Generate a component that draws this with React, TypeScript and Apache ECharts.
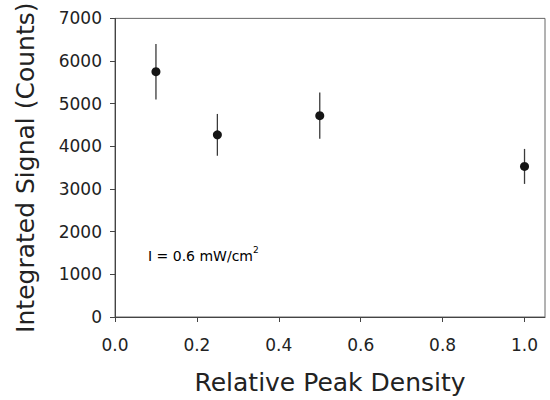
import React, { useEffect, useRef } from "react";
import * as echarts from "echarts";

const relativeDensity = [0.1, 0.25, 0.5, 1.0];
const integratedSignal = [5750, 4270, 4720, 3530];
const signalError = [650, 490, 540, 410];
const xTickValues = [0, 0.2, 0.4, 0.6, 0.8, 1.0];
const xAxisTitle = "Relative Peak Density";
const yAxisTitle = "Integrated Signal (Counts)";
const annotationMain = "I = 0.6 mW/cm";
const annotationSup = "2";

const FONT = "DejaVu Sans";
const TEXT = "#222";
const AXIS = "#444";

export default function App() {
  const ref = useRef<HTMLDivElement>(null);

  useEffect(() => {
    if (!ref.current) return;
    const chart = echarts.init(ref.current, undefined, { renderer: "svg" });
    const points = relativeDensity.map((x, i) => [x, integratedSignal[i]]);
    const bars = relativeDensity.map((x, i) => [
      x,
      integratedSignal[i] - signalError[i],
      integratedSignal[i] + signalError[i],
    ]);
    chart.setOption({
      animation: false,
      grid: {
        left: 115,
        right: 5,
        top: 18,
        bottom: 82,
        show: true,
        borderColor: "#666",
        borderWidth: 1,
        backgroundColor: "transparent",
      },
      xAxis: {
        type: "value",
        min: 0,
        max: 1.05,
        interval: 0.2,
        name: xAxisTitle,
        nameLocation: "middle",
        nameGap: 53,
        nameTextStyle: { fontFamily: FONT, fontSize: 25, color: TEXT },
        axisLine: { show: true, lineStyle: { color: AXIS, width: 1 } },
        axisTick: {
          show: true,
          inside: false,
          length: 5,
          customValues: xTickValues,
          lineStyle: { color: AXIS },
        },
        axisLabel: {
          fontFamily: FONT,
          fontSize: 17,
          color: TEXT,
          margin: 19,
          customValues: xTickValues,
          formatter: (v: number) => v.toFixed(1),
        },
        splitLine: { show: false },
      },
      yAxis: {
        type: "value",
        min: 0,
        max: 7000,
        interval: 1000,
        name: yAxisTitle,
        nameLocation: "middle",
        nameGap: 77,
        nameTextStyle: { fontFamily: FONT, fontSize: 25, color: TEXT },
        axisLine: { show: true, lineStyle: { color: AXIS, width: 1 } },
        axisTick: { show: true, inside: false, length: 5, lineStyle: { color: AXIS } },
        axisLabel: {
          fontFamily: FONT,
          fontSize: 17,
          color: TEXT,
          margin: 13,
          formatter: (v: number) => String(v),
        },
        splitLine: { show: false },
      },
      graphic: [
        {
          type: "text",
          left: 148,
          top: 245,
          style: {
            text: `{a|${annotationMain}}{s|${annotationSup}}`,
            rich: {
              a: { fontFamily: FONT, fontSize: 14, color: TEXT, lineHeight: 18, verticalAlign: "bottom" },
              s: { fontFamily: FONT, fontSize: 9, color: TEXT, lineHeight: 18, verticalAlign: "top" },
            },
          },
        },
      ],
      series: [
        {
          type: "custom",
          data: bars,
          encode: { x: 0, y: [1, 2] },
          silent: true,
          z: 1,
          renderItem: (_params: any, api: any) => {
            const p1 = api.coord([api.value(0), api.value(1)]);
            const p2 = api.coord([api.value(0), api.value(2)]);
            return {
              type: "line",
              shape: { x1: p1[0], y1: p1[1], x2: p2[0], y2: p2[1] },
              style: { stroke: "#3a3a3a", lineWidth: 1.3 },
            };
          },
        },
        {
          type: "scatter",
          data: points,
          symbol: "circle",
          symbolSize: 9,
          z: 2,
          itemStyle: { color: "#151515", opacity: 1 },
        },
      ],
    });
    return () => chart.dispose();
  }, []);

  return (
    <div
      ref={ref}
      style={{ position: "absolute", left: 0, top: 0, width: 550, height: 400, background: "#fff" }}
    />
  );
}
